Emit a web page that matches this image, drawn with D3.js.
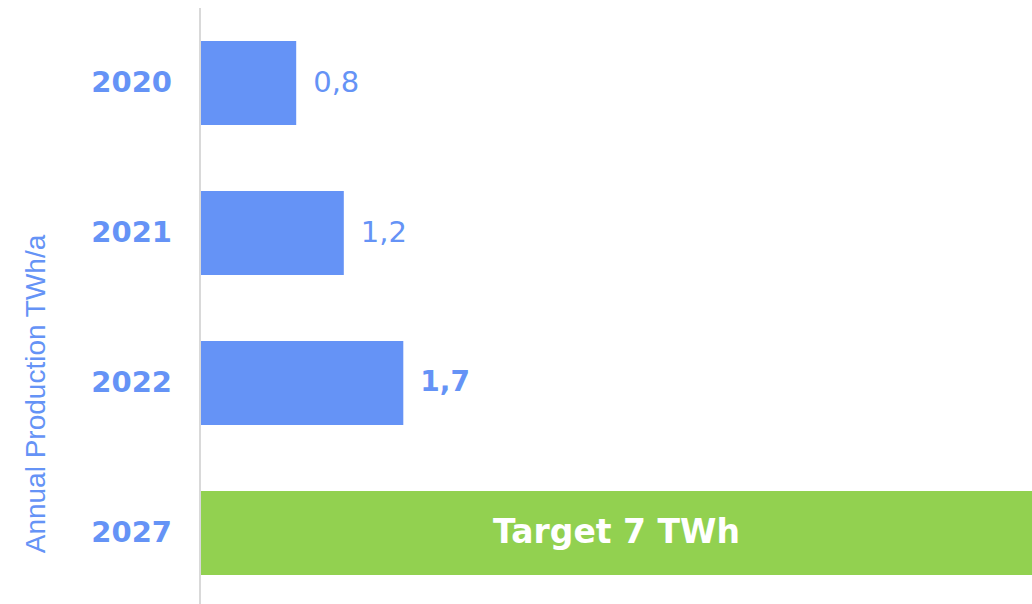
<!DOCTYPE html>
<html><head><meta charset="utf-8">
<script src="https://cdn.jsdelivr.net/npm/d3@7"></script>
<style>html,body{margin:0;padding:0;background:#fff;}</style>
</head><body>
<script>
const years = ["2020","2021","2022","2027"];
const values = [0.8, 1.2, 1.7, 7];
const valueLabels = ["0,8","1,2","1,7",""];
const boldLabel = [false,false,true,false];
const targetText = "Target 7 TWh";
const axisTitle = "Annual Production TWh/a";

const W = 1032, H = 604;
const svg = d3.select("body").append("svg").attr("width", W).attr("height", H);
const blue = "#6593F6", green = "#92D150";

const y = d3.scaleBand().domain(years).range([8, 608]).paddingInner(0.44).paddingOuter(0.22);
const x = d3.scaleLinear().domain([0, 7]).range([201, 201 + 7*119]);

svg.append("g").selectAll("rect").data(years).join("rect")
  .attr("x", x(0))
  .attr("y", d => y(d))
  .attr("height", y.bandwidth())
  .attr("width", (d,i) => Math.min(x(values[i]), W) - x(0))
  .attr("fill", (d,i) => i === 3 ? green : blue);

// axis line
svg.append("line").attr("x1", 200).attr("x2", 200).attr("y1", 8).attr("y2", H)
  .attr("stroke", "#d9d9d9").attr("stroke-width", 2);

// year labels
const yAxis = d3.axisLeft(y).tickSize(0).tickPadding(0);
const ga = svg.append("g").attr("transform", "translate(172,0)").call(yAxis);
ga.select(".domain").remove();
ga.selectAll("text").attr("font-family", "DejaVu Sans, Verdana, sans-serif")
  .attr("font-weight", "bold").attr("font-size", 29).attr("fill", blue)
  .attr("dy", "0.3em");

// value labels
svg.append("g").selectAll("text").data(years.slice(0,3)).join("text")
  .attr("x", (d,i) => x(values[i]) + 17)
  .attr("y", d => y(d) + y.bandwidth()/2)
  .attr("dy", "0.3em")
  .attr("font-family", "DejaVu Sans, Verdana, sans-serif")
  .attr("font-size", (d,i) => boldLabel[i] ? 28 : 29)
  .attr("font-weight", (d,i) => boldLabel[i] ? "bold" : "normal")
  .attr("fill", blue)
  .text((d,i) => valueLabels[i]);

// target text
svg.append("text")
  .attr("x", (x(0) + Math.min(x(values[3]), W)) / 2)
  .attr("y", y("2027") + y.bandwidth()/2)
  .attr("dy", "0.3em")
  .attr("text-anchor", "middle")
  .attr("font-family", "DejaVu Sans, Verdana, sans-serif")
  .attr("font-weight", "bold")
  .attr("font-size", 33)
  .attr("fill", "#fff")
  .text(targetText);

// axis title
svg.append("text")
  .attr("transform", "translate(45,394) rotate(-90)")
  .attr("text-anchor", "middle")
  .attr("font-family", "Liberation Sans, Arial, sans-serif")
  .attr("font-size", 28)
  .attr("fill", blue)
  .text(axisTitle);
</script>
</body></html>
